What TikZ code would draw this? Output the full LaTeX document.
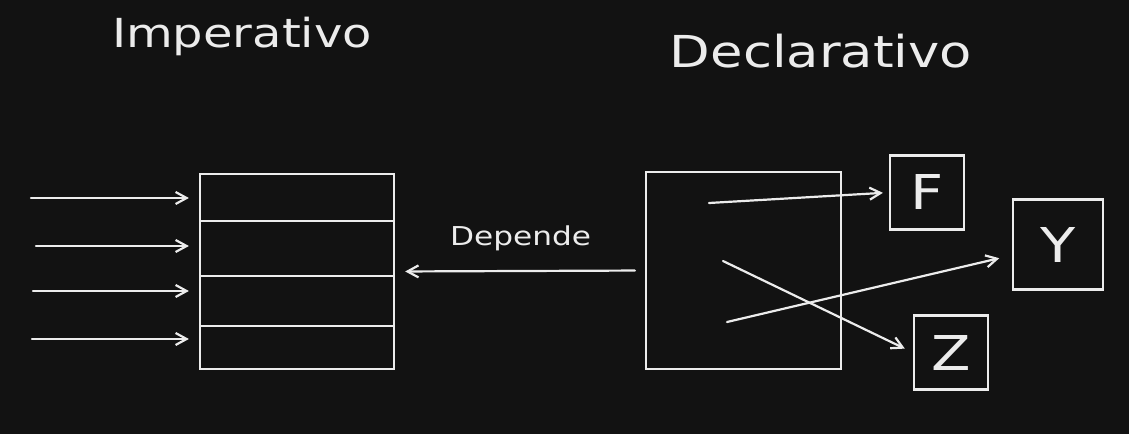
\documentclass[tikz,border=0pt]{standalone}
\usepackage{fontspec}
\newfontfamily\handfont[FakeStretch=1.2]{DejaVu Sans}
\usepackage{tikz}
\usetikzlibrary{matrix, arrows.meta}
\definecolor{board}{HTML}{121212}
\definecolor{chalk}{HTML}{ECECEC}

\begin{document}
\begin{tikzpicture}[x=1pt, y=-1pt, line width=2.2pt, line cap=round, chalk,
  arr/.style={-{Straight Barb[length=11pt, width=12pt]}},
  letterbox/.style={draw=chalk, minimum width=#1, minimum height=#1, inner sep=0pt, font=\handfont\fontsize{48}{48}\selectfont}]
\useasboundingbox[fill=board] (0,0) rectangle (1129,434);
\node[anchor=base, font=\handfont\fontsize{40}{40}\selectfont] (imp) at (242,47) {Imperativo};
\node[anchor=base, font=\handfont\fontsize{44}{44}\selectfont] (dec) at (821,67) {Declarativo};
\matrix (M)[matrix of nodes, nodes in empty cells, inner sep=0pt, row sep=-\pgflinewidth, nodes={draw=chalk, line width=2.2pt, minimum width=194pt, inner sep=0pt}, row 1/.style={nodes={minimum height=47pt}}, row 2/.style={nodes={minimum height=55pt}}, row 3/.style={nodes={minimum height=50pt}}, row 4/.style={nodes={minimum height=43pt}}] at (297,271.5) {
\\
\\
\\
\\
};
\coordinate (s1) at (31,198);
\coordinate (s2) at (36,246);
\coordinate (s3) at (33,291);
\coordinate (s4) at (32,339);
\draw[arr, shorten >=10pt] (s1) -- (s1 -| M-1-1.west);
\draw[arr, shorten >=10pt] (s2) -- (s2 -| M-2-1.west);
\draw[arr, shorten >=10pt] (s3) -- (s3 -| M-3-1.west);
\draw[arr, shorten >=10pt] (s4) -- (s4 -| M-4-1.west);
\node[draw=chalk, minimum width=195pt, minimum height=197pt, inner sep=0pt] (decl) at (743.5,270.5) {};
\draw[arr, shorten <=10pt, shorten >=9pt] (decl.west) -- node[midway, anchor=base, yshift=26pt, font=\handfont\fontsize{26}{26}\selectfont] (dep) {Depende} (M.east);
\node[letterbox=74pt] (F) at (927,192.5) {F};
\node[letterbox=90pt] (Y) at (1058,244.5) {Y};
\node[letterbox=74pt] (Z) at (951,352.5) {Z};
\coordinate (p1) at (709,203);
\coordinate (p2) at (727,322);
\coordinate (p3) at (723,261);
\draw[arr, shorten >=6pt] (p1) -- (F.west);
\draw[arr, shorten >=13pt] (p2) -- (Y);
\draw[arr, shorten >=9pt] (p3) -- (Z.west);
\end{tikzpicture}
\end{document}
